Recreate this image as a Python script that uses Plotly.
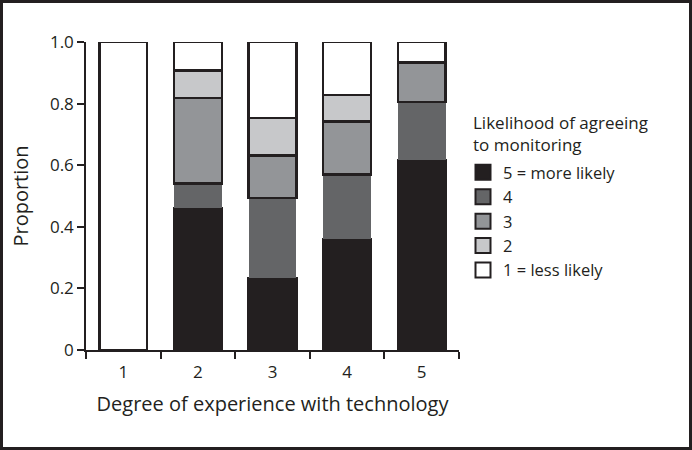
import plotly.graph_objects as go

experience = ["1", "2", "3", "4", "5"]
likely5 = [0.0, 0.46, 0.234, 0.361, 0.617]
likely4 = [0.0, 0.081, 0.259, 0.209, 0.189]
likely3 = [0.0, 0.277, 0.138, 0.172, 0.128]
likely2 = [0.0, 0.089, 0.122, 0.086, 0.0]
likely1 = [1.0, 0.093, 0.247, 0.172, 0.066]

series_names = ["5 = more likely", "4", "3", "2", "1 = less likely"]
series_vals = [likely5, likely4, likely3, likely2, likely1]
colors = ["#231f20", "#646567", "#939598", "#c7c8ca", "#ffffff"]
line_w = [2.5, 0, 2.5, 2.5, 2.5]

W, H = 692, 450
ml, mr, mt, mb = 86, 233, 42, 100
pw = W - ml - mr
ph = H - mt - mb

fig = go.Figure()
for name, vals, c, lw in zip(series_names, series_vals, colors, line_w):
    fig.add_trace(go.Bar(
        x=experience, y=vals, name=name, width=0.64, showlegend=False,
        marker=dict(color=c, line=dict(color="#231f20", width=lw)),
    ))
# legend entries
for name, c in zip(series_names, colors):
    fig.add_trace(go.Scatter(
        x=[None], y=[None], mode="markers", name=name,
        marker=dict(symbol="square", size=15, color=c,
                    line=dict(color="#231f20", width=2)),
    ))

def px_x(p):
    return (p - ml) / pw

def px_y(p):
    return (H - mb - p) / ph

fig.add_shape(type="rect", xref="paper", yref="paper",
              x0=px_x(1.5), x1=px_x(W - 1.5),
              y0=px_y(H - 1.5), y1=px_y(1.5),
              line=dict(color="#231f20", width=3), layer="above")

font = dict(family="Open Sans", size=17, color="#231f20")
lfont = dict(family="Open Sans", size=16.5, color="#231f20")
fig.add_annotation(xref="paper", yref="paper", x=px_x(471), y=px_y(109),
                   xanchor="left", yanchor="top", align="left", showarrow=False,
                   text="Likelihood of agreeing<br>to monitoring", font=font)

fig.update_layout(
    width=W, height=H, barmode="stack",
    margin=dict(l=ml, r=mr, t=mt, b=mb),
    paper_bgcolor="white", plot_bgcolor="white",
    font=font,
    legend=dict(x=px_x(463), y=px_y(155), xanchor="left", yanchor="top",
                traceorder="normal", font=lfont, itemwidth=30,
                itemsizing="trace", tracegroupgap=0),
    xaxis=dict(title=dict(text="Degree of experience with technology", standoff=15),
               showline=True, linecolor="#231f20", linewidth=1.5,
               ticks="outside", tickson="boundaries", ticklen=7,
               tickcolor="#231f20", tickwidth=1.5, showgrid=False,
               ticklabelstandoff=6, range=[-0.5, 4.5]),
    yaxis=dict(title=dict(text="Proportion", standoff=16),
               range=[0, 1], tickvals=[0, 0.2, 0.4, 0.6, 0.8, 1.0],
               ticktext=["0", "0.2", "0.4", "0.6", "0.8", "1.0"],
               showline=True, linecolor="#231f20", linewidth=1.5,
               ticks="outside", ticklen=7, tickcolor="#231f20", tickwidth=1.5,
               showgrid=False, zeroline=False),
)
fig.write_html("out.html", post_script="document.body.style.margin='0';",
               config={"displayModeBar": False})
